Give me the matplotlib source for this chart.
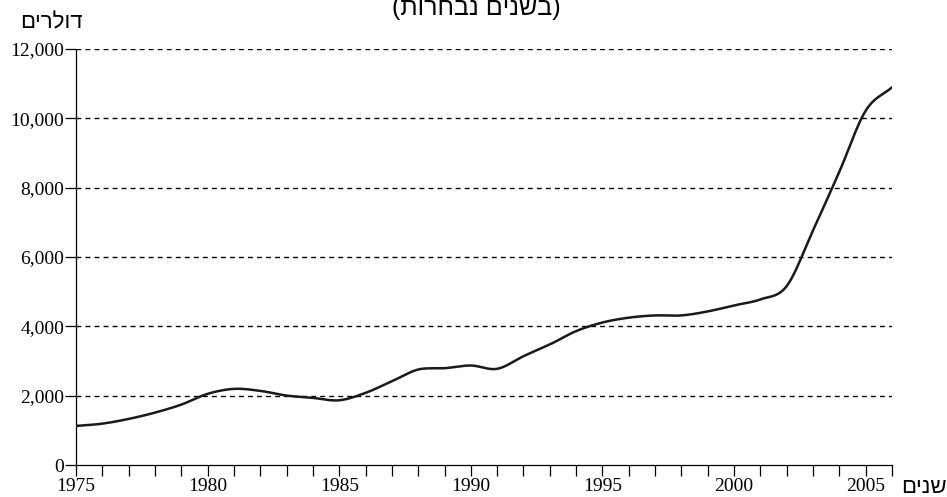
import numpy as np
import matplotlib
matplotlib.use("Agg")
import matplotlib.pyplot as plt
from matplotlib.ticker import FuncFormatter, MultipleLocator

years = [1975, 1976, 1977, 1978, 1979, 1980, 1981, 1982, 1983, 1984, 1985,
         1986, 1987, 1988, 1989, 1990, 1991, 1992, 1993, 1994, 1995,
         1996, 1997, 1998, 1999, 2000, 2001, 2002, 2003, 2004, 2005, 2006]
dollars = [1127, 1193, 1329, 1511, 1742, 2052, 2196, 2138, 2003, 1936, 1867,
           2081, 2416, 2754, 2792, 2870, 2775, 3139, 3477, 3862, 4110,
           4250, 4315, 4315, 4430, 4604, 4777, 5162, 6770, 8460, 10220, 10896]
year_ticks = [1975, 1980, 1985, 1990, 1995, 2000, 2005]
value_ticks = [0, 2000, 4000, 6000, 8000, 10000, 12000]

title_text = "(בשנים נבחרות)"
y_label = "דולרים"
x_label = "שנים"


def visual(s):
    """Reorder right-to-left text for matplotlib's left-to-right layout."""
    swap = {"(": ")", ")": "("}
    return "".join(swap.get(c, c) for c in s[::-1])


def smooth(x, y, n=20):
    x = np.asarray(x, float)
    y = np.asarray(y, float)
    m = np.zeros_like(y)
    m[1:-1] = (y[2:] - y[:-2]) / (x[2:] - x[:-2])
    m[0] = (y[1] - y[0]) / (x[1] - x[0])
    m[-1] = (y[-1] - y[-2]) / (x[-1] - x[-2])
    xs, ys = [], []
    for i in range(len(x) - 1):
        h = x[i + 1] - x[i]
        t = np.linspace(0, 1, n, endpoint=False)
        h00 = 2 * t**3 - 3 * t**2 + 1
        h10 = t**3 - 2 * t**2 + t
        h01 = -2 * t**3 + 3 * t**2
        h11 = t**3 - t**2
        xs.append(x[i] + t * h)
        ys.append(h00 * y[i] + h10 * h * m[i] + h01 * y[i + 1] + h11 * h * m[i + 1])
    xs.append([x[-1]])
    ys.append([y[-1]])
    return np.concatenate(xs), np.concatenate(ys)


serif = ["Liberation Serif", "DejaVu Serif"]
heb = ["Liberation Sans", "DejaVu Sans"]

fig = plt.figure(figsize=(9.47, 4.97), dpi=100)
ax = fig.add_axes([76 / 947, 32 / 497, (892 - 76) / 947, (465 - 49) / 497])

for v in value_ticks[1:]:
    ax.plot([1975, 2006], [v, v], color="black", lw=1.0,
            linestyle=(0, (3.5, 3.0)), zorder=1)

sx, sy = smooth(years, dollars)
ax.plot(sx, sy, color="#1a1a1a", lw=1.8, zorder=3, solid_capstyle="round")

ax.set_xlim(1975, 2006)
ax.set_ylim(0, 12000)
ax.spines["top"].set_visible(False)
ax.spines["right"].set_visible(False)
ax.spines["left"].set_linewidth(0.9)
ax.spines["bottom"].set_linewidth(0.9)

ax.set_xticks(year_ticks)
ax.xaxis.set_minor_locator(MultipleLocator(1))
ax.tick_params(axis="x", which="both", direction="out", length=8, width=0.9,
               pad=1.5)
ax.set_yticks(value_ticks)
ax.yaxis.set_major_formatter(FuncFormatter(lambda v, p: f"{int(v):,}"))
ax.tick_params(axis="y", direction="out", length=8, width=0.9, pad=0.5)
for lab in ax.get_xticklabels() + ax.get_yticklabels():
    lab.set_fontfamily(serif)
    lab.set_fontsize(14)

fig.text(476 / 947, 1 - 15 / 497, visual(title_text), family=heb, fontsize=18,
         ha="center", va="baseline")
fig.text(51.5 / 947, 1 - 28 / 497, visual(y_label), family=heb, fontsize=16,
         ha="center", va="baseline")
fig.text(924 / 947, 1 - 493 / 497, visual(x_label), family=heb, fontsize=16,
         ha="center", va="baseline")

fig.savefig("out.png", dpi=100)
